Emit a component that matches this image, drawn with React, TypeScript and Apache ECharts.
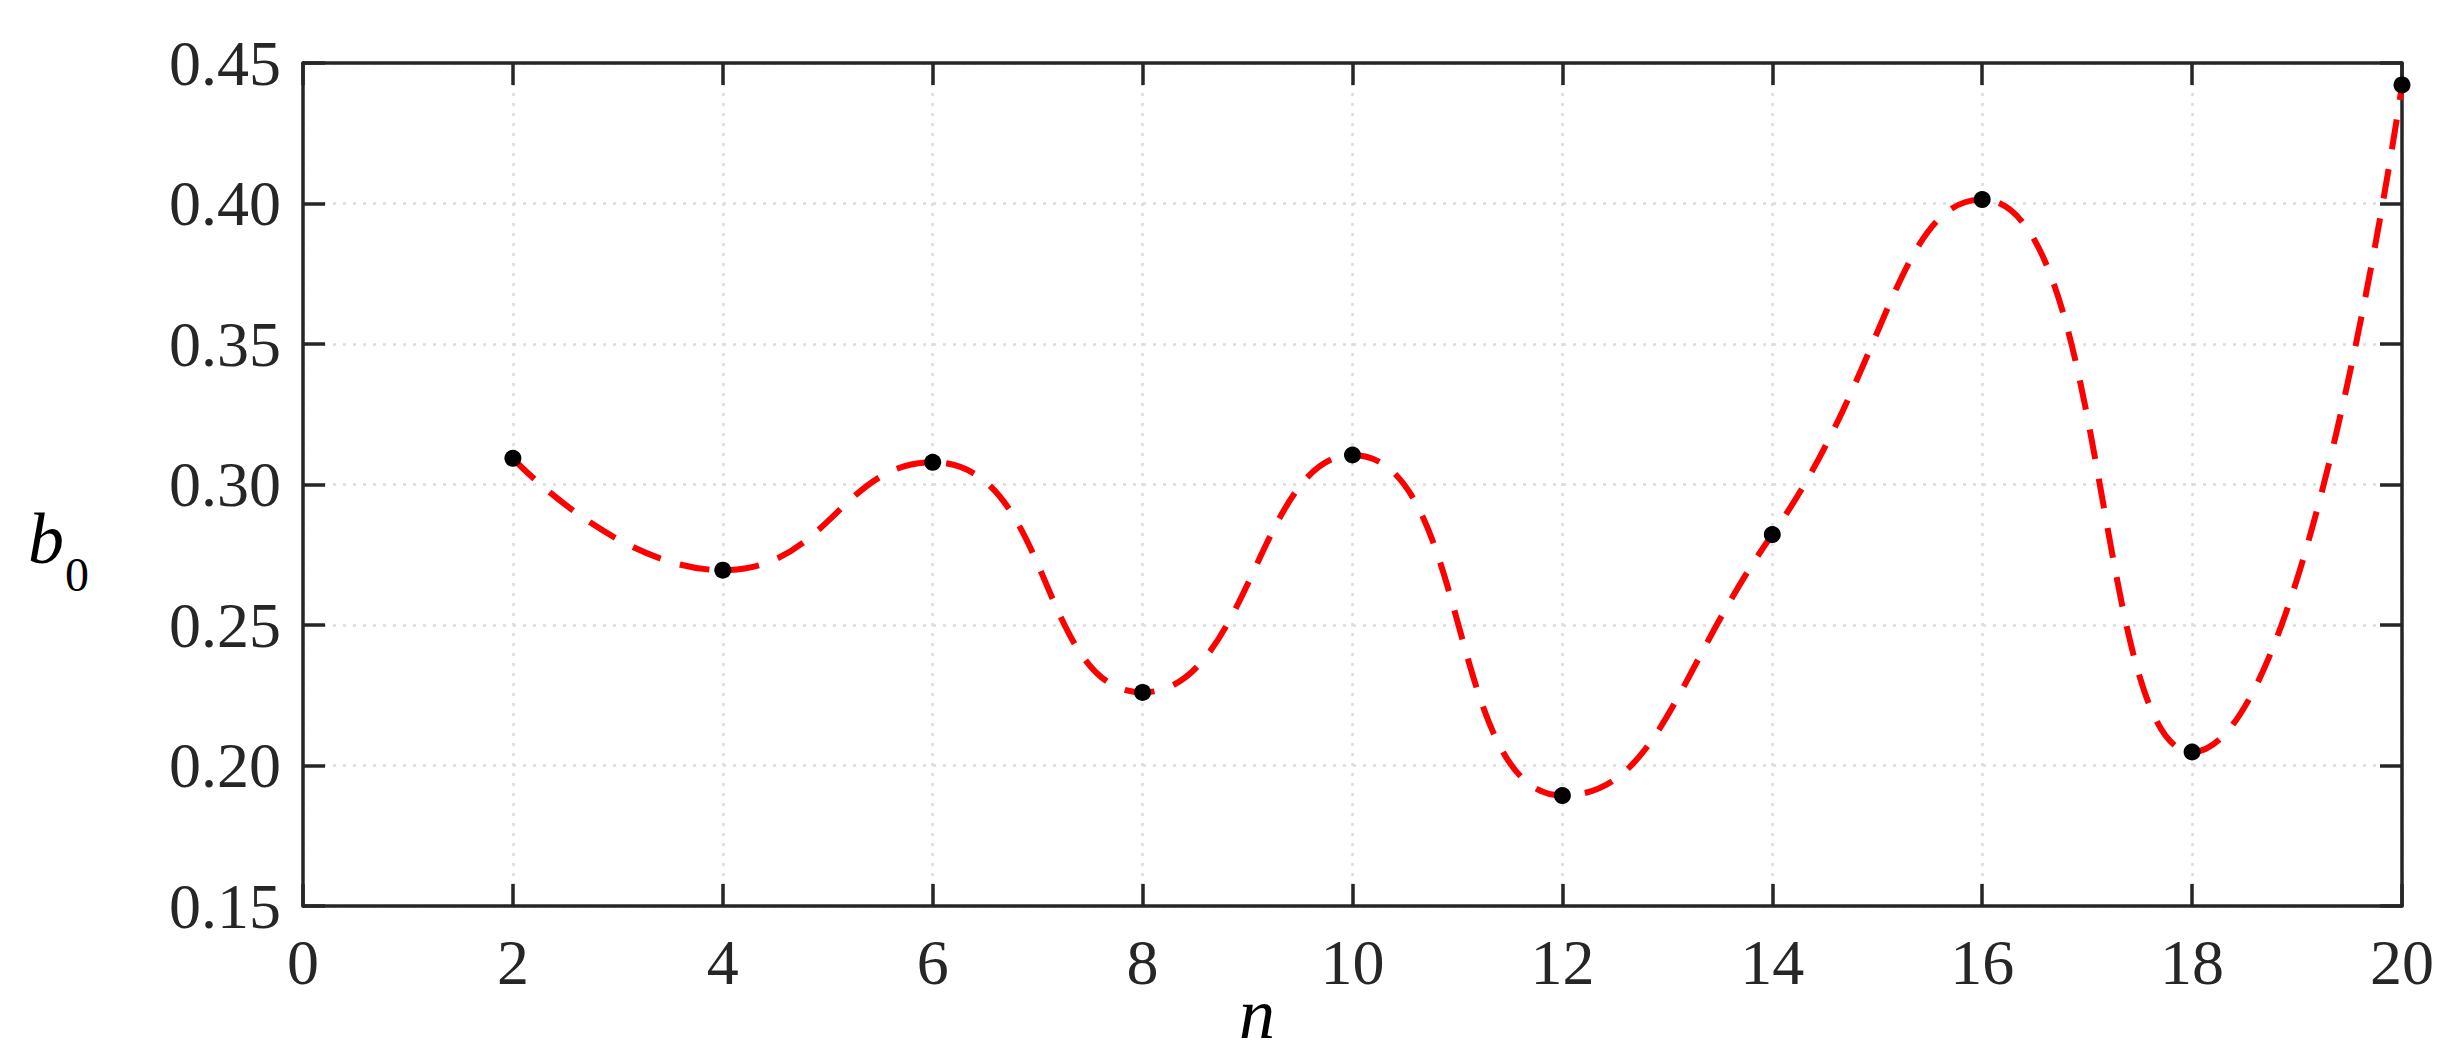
import * as echarts from "echarts";
import { useEffect, useRef } from "react";

const nValues = [2, 4, 6, 8, 10, 12, 14, 16, 18, 20];
const b0Values = [0.3093, 0.2695, 0.3079, 0.226, 0.3105, 0.1893, 0.2822, 0.4014, 0.2048, 0.4422];

const xTicks = { min: 0, max: 20, interval: 2 };
const yTicks = { min: 0.15, max: 0.45, interval: 0.05 };

const AXIS_COLOR = "#262626";
const FONT = "'Liberation Serif', 'Times New Roman', serif";

export default function App() {
  const chartRef = useRef<HTMLDivElement>(null);

  useEffect(() => {
    const chart = echarts.init(chartRef.current!, null, { renderer: "svg" });
    const points = nValues.map((n, i) => [n, b0Values[i]]);

    const frameLine = { show: true, onZero: false, lineStyle: { color: AXIS_COLOR, width: 3.5 } };
    const tickIn = { show: true, inside: true, length: 22, lineStyle: { color: AXIS_COLOR, width: 3.5 } };
    const gridDots = { show: true, lineStyle: { color: "#dcdcdc", width: 2.5, type: [3, 7] } };

    chart.setOption({
      animation: false,
      backgroundColor: "#ffffff",
      grid: { left: 303, top: 63, right: 50, bottom: 154 },
      xAxis: [
        {
          type: "value",
          ...xTicks,
          position: "bottom",
          axisLine: frameLine,
          axisTick: tickIn,
          splitLine: gridDots,
          axisLabel: { color: AXIS_COLOR, fontFamily: FONT, fontSize: 64, margin: 24 },
        },
        {
          type: "value",
          ...xTicks,
          position: "top",
          axisLine: frameLine,
          axisTick: tickIn,
          splitLine: { show: false },
          axisLabel: { show: false },
        },
      ],
      yAxis: [
        {
          type: "value",
          ...yTicks,
          position: "left",
          axisLine: frameLine,
          axisTick: tickIn,
          splitLine: gridDots,
          axisLabel: {
            color: AXIS_COLOR,
            fontFamily: FONT,
            fontSize: 64,
            margin: 22,
            formatter: (v: number) => v.toFixed(2),
          },
        },
        {
          type: "value",
          ...yTicks,
          position: "right",
          axisLine: frameLine,
          axisTick: tickIn,
          splitLine: { show: false },
          axisLabel: { show: false },
        },
      ],
      series: [
        {
          type: "line",
          data: points,
          smooth: true,
          showSymbol: false,
          lineStyle: { color: "#ff0000", width: 6, type: [30, 20], cap: "butt" },
          z: 2,
        },
        {
          type: "scatter",
          data: points,
          symbol: "circle",
          symbolSize: 17,
          itemStyle: { color: "#000000", opacity: 1 },
          z: 3,
        },
      ],
      graphic: [
        {
          type: "text",
          x: 1257,
          y: 1014,
          style: {
            text: "n",
            font: `italic 72px ${FONT}`,
            fill: "#000000",
            align: "center",
            verticalAlign: "middle",
          },
        },
        {
          type: "text",
          x: 28,
          y: 539,
          style: {
            text: "b",
            font: `italic 72px ${FONT}`,
            fill: "#000000",
            align: "left",
            verticalAlign: "middle",
          },
        },
        {
          type: "text",
          x: 65,
          y: 574,
          style: {
            text: "0",
            font: `48px ${FONT}`,
            fill: "#000000",
            align: "left",
            verticalAlign: "middle",
          },
        },
      ],
    });
    return () => chart.dispose();
  }, []);

  return (
    <div
      ref={chartRef}
      style={{ position: "fixed", left: 0, top: 0, width: 2452, height: 1060, background: "#fff" }}
    />
  );
}
